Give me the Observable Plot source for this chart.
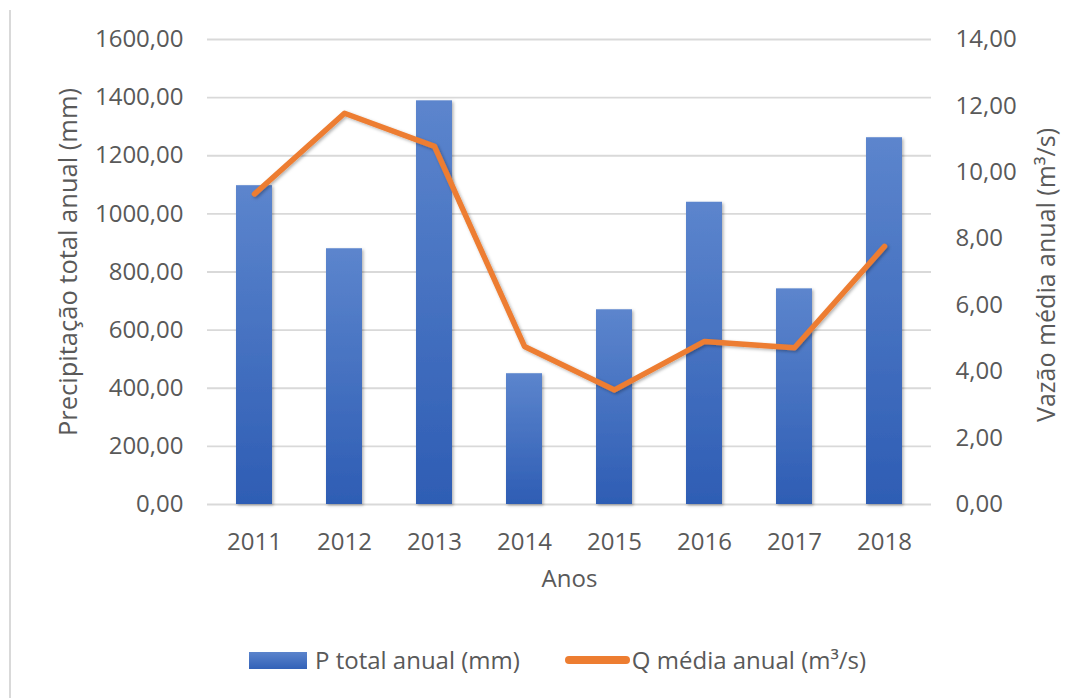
<!DOCTYPE html>
<html>
<head>
<meta charset="utf-8">
<script src="https://cdn.jsdelivr.net/npm/d3@7"></script>
<script src="https://cdn.jsdelivr.net/npm/@observablehq/plot@0.6"></script>
<style>
  body { margin: 0; background: #fff; font-family: "Open Sans", sans-serif; }
  #wrap { position: relative; width: 1084px; height: 698px; overflow: hidden; background: #fff; }
  #border { position: absolute; left: 9px; top: 10px; width: 2px; bottom: 0; background: #d9d9d9; }
  #chart { position: absolute; left: 0; top: 0; }
  #legend { position: absolute; top: 642px; left: 249px; display: flex; align-items: center;
            font-size: 24px; color: #595959; white-space: nowrap; line-height: 36px; }
  .sw-bar { width: 58px; height: 17px; background: linear-gradient(#5b84cc, #3362b8); margin-right: 8px; }
  .sw-line { width: 65px; height: 8px; border-radius: 4px; background: #ed7d31; margin-left: 45px; margin-right: 2px; }
</style>
</head>
<body>
<div id="wrap">
  <div id="border"></div>
  <div id="chart"></div>
  <div id="legend"></div>
</div>
<script>
// ---- data ----
const years = ["2011", "2012", "2013", "2014", "2015", "2016", "2017", "2018"];
const pTotal = [1097, 880, 1389, 450, 670, 1040, 742, 1262];      // P total anual (mm)
const qMedia = [9.35, 11.78, 10.78, 4.76, 3.45, 4.91, 4.72, 7.77]; // Q média anual (m³/s)
const pTicks = [0, 200, 400, 600, 800, 1000, 1200, 1400, 1600];
const qTicks = [0, 2, 4, 6, 8, 10, 12, 14];
const xTitle = "Anos";
const yLeftTitle = "Precipitação total anual (mm)";
const yRightTitle = "Vazão média anual (m³/s)";
const seriesNames = ["P total anual (mm)", "Q média anual (m³/s)"];

// ---- build ----
const pMax = 1600, qMax = 14;
const k = pMax / qMax; // map right axis onto left scale
const data = years.map((year, i) => ({year, p: pTotal[i], q: qMedia[i], qy: qMedia[i] * k}));
const fmt = v => (Math.round(v * 100) / 100).toFixed(2).replace(".", ",");
const gray = "#595959";

const chart = Plot.plot({
  width: 1084,
  height: 610,
  marginLeft: 207,
  marginRight: 153,
  marginTop: 39,
  marginBottom: 106,
  style: {fontFamily: '"Open Sans", sans-serif', fontSize: "24px", color: gray, background: "transparent", overflow: "visible"},
  x: {type: "band", domain: years, paddingInner: 0.595, paddingOuter: 0.2975, label: null},
  y: {domain: [0, pMax], label: null},
  marks: [
    Plot.gridY(pTicks, {stroke: "#d9d9d9", strokeOpacity: 1, strokeWidth: 1.8}),
    Plot.barY(data, {x: "year", y: "p", fill: "url(#pGrad)"}),
    Plot.lineY(data, {x: "year", y: "qy", stroke: "#ed7d31", strokeWidth: 5.5, strokeLinejoin: "round", strokeLinecap: "round"}),
    Plot.axisX({tickSize: 0, tickPadding: 28, label: null, fill: gray}),
    Plot.axisY(pTicks, {anchor: "left", tickSize: 0, tickPadding: 24, tickFormat: fmt, label: null, fill: gray}),
    Plot.axisY(qTicks.map(v => v * k), {anchor: "right", tickSize: 0, tickPadding: 24, tickFormat: d => fmt(d / k), label: null, fill: gray}),
    Plot.text([xTitle], {frameAnchor: "bottom", dy: 75, text: d => d, fill: gray, fontSize: 24, lineAnchor: "middle"}),
    Plot.text([yLeftTitle], {frameAnchor: "left", dx: -139, dy: -10, rotate: -90, text: d => d, fill: gray, fontSize: 25.5, textAnchor: "middle", lineAnchor: "middle"}),
    Plot.text([yRightTitle], {frameAnchor: "right", dx: 115, dy: 3, rotate: -90, text: d => d, fill: gray, fontSize: 25, textAnchor: "middle", lineAnchor: "middle"})
  ]
});

// gradient + shadows
const svg = d3.select(chart);
const defs = svg.insert("defs", ":first-child");
const g = defs.append("linearGradient").attr("id", "pGrad").attr("x1", 0).attr("y1", 0).attr("x2", 0).attr("y2", 1);
g.append("stop").attr("offset", "0%").attr("stop-color", "#5c85cd");
g.append("stop").attr("offset", "100%").attr("stop-color", "#2e5db4");
const f = defs.append("filter").attr("id", "shadow").attr("x", "-20%").attr("y", "-20%").attr("width", "140%").attr("height", "140%");
f.append("feDropShadow").attr("dx", 1.5).attr("dy", 1.5).attr("stdDeviation", 1.6).attr("flood-color", "#000").attr("flood-opacity", 0.3);
svg.selectAll('g[aria-label="bar"]').attr("filter", "url(#shadow)");
svg.selectAll('g[aria-label="line"]').attr("filter", "url(#shadow)");

document.getElementById("chart").appendChild(chart);

// legend
const legend = d3.select("#legend");
legend.append("div").attr("class", "sw-bar");
legend.append("span").text(seriesNames[0]);
legend.append("div").attr("class", "sw-line");
legend.append("span").text(seriesNames[1]);
</script>
</body>
</html>
